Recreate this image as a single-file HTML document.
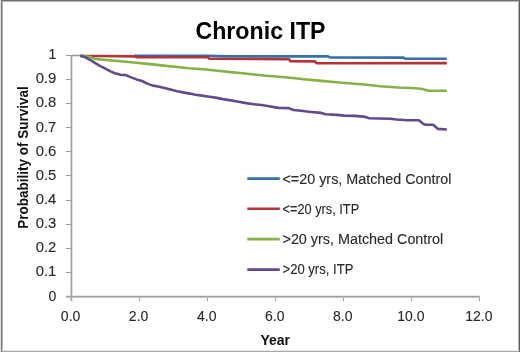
<!DOCTYPE html>
<html><head><meta charset="utf-8"><style>
html,body{margin:0;padding:0;background:#fff;}
body{width:520px;height:352px;overflow:hidden;position:relative;}
svg{position:absolute;left:0;top:0;will-change:transform;}
.t{font-family:"Liberation Sans",sans-serif;font-size:14px;fill:#2a2a2a;stroke:#2a2a2a;stroke-width:0.12px;}
.ax{font-family:"Liberation Sans",sans-serif;font-size:13.5px;font-weight:bold;fill:#111;}
.title{font-family:"Liberation Sans",sans-serif;font-size:24px;font-weight:bold;fill:#000;}
</style></head><body>
<svg width="520" height="352" viewBox="0 0 520 352">
<rect x="0" y="0" width="520" height="352" fill="#fff"/>
<rect x="0" y="350" width="518" height="1" fill="#e8e8e8"/>
<rect x="0" y="351" width="519" height="1" fill="#a8a8a8"/>
<rect x="0" y="1" width="520" height="1" fill="#b5b5b5"/>
<rect x="0" y="0" width="520" height="1" fill="#727272"/>
<rect x="0" y="0" width="1" height="352" fill="#e0e0e0"/>
<rect x="2" y="2" width="1" height="348" fill="#b8b8b8"/>
<rect x="1" y="0" width="1" height="352" fill="#7a7a7a"/>
<rect x="518" y="2" width="1" height="348" fill="#b5b5b5"/>
<rect x="519" y="0" width="1" height="352" fill="#5f5f5f"/>
<rect x="70" y="55" width="1" height="246" fill="#d4d4d4"/>
<rect x="72" y="55" width="1" height="246" fill="#e2e2e2"/>
<rect x="66" y="295" width="414" height="1" fill="#e6e6e6"/>
<rect x="66" y="296" width="414" height="1" fill="#a2a2a2"/>
<rect x="66" y="297" width="414" height="1" fill="#c4c4c4"/>
<rect x="71" y="55" width="1" height="246" fill="#a0a0a0"/>
<line x1="66" y1="272.5" x2="71" y2="272.5" stroke="#9a9a9a" stroke-width="1"/>
<line x1="66" y1="248.5" x2="71" y2="248.5" stroke="#9a9a9a" stroke-width="1"/>
<line x1="66" y1="224.5" x2="71" y2="224.5" stroke="#9a9a9a" stroke-width="1"/>
<line x1="66" y1="200.5" x2="71" y2="200.5" stroke="#9a9a9a" stroke-width="1"/>
<line x1="66" y1="175.5" x2="71" y2="175.5" stroke="#9a9a9a" stroke-width="1"/>
<line x1="66" y1="151.5" x2="71" y2="151.5" stroke="#9a9a9a" stroke-width="1"/>
<line x1="66" y1="127.5" x2="71" y2="127.5" stroke="#9a9a9a" stroke-width="1"/>
<line x1="66" y1="103.5" x2="71" y2="103.5" stroke="#9a9a9a" stroke-width="1"/>
<line x1="66" y1="79.5" x2="71" y2="79.5" stroke="#9a9a9a" stroke-width="1"/>
<line x1="66" y1="55.5" x2="71" y2="55.5" stroke="#9a9a9a" stroke-width="1"/>
<line x1="139.5" y1="298" x2="139.5" y2="301" stroke="#9a9a9a" stroke-width="1"/>
<line x1="207.5" y1="298" x2="207.5" y2="301" stroke="#9a9a9a" stroke-width="1"/>
<line x1="275.5" y1="298" x2="275.5" y2="301" stroke="#9a9a9a" stroke-width="1"/>
<line x1="343.5" y1="298" x2="343.5" y2="301" stroke="#9a9a9a" stroke-width="1"/>
<line x1="411.5" y1="298" x2="411.5" y2="301" stroke="#9a9a9a" stroke-width="1"/>
<line x1="479.5" y1="298" x2="479.5" y2="301" stroke="#9a9a9a" stroke-width="1"/>
<text x="56.3" y="300.5" text-anchor="end" class="t">0</text>
<text x="56.3" y="276.4" text-anchor="end" class="t" textLength="20.6" lengthAdjust="spacingAndGlyphs">0.1</text>
<text x="56.3" y="252.2" text-anchor="end" class="t" textLength="20.6" lengthAdjust="spacingAndGlyphs">0.2</text>
<text x="56.3" y="228.1" text-anchor="end" class="t" textLength="20.6" lengthAdjust="spacingAndGlyphs">0.3</text>
<text x="56.3" y="203.9" text-anchor="end" class="t" textLength="20.6" lengthAdjust="spacingAndGlyphs">0.4</text>
<text x="56.3" y="179.8" text-anchor="end" class="t" textLength="20.6" lengthAdjust="spacingAndGlyphs">0.5</text>
<text x="56.3" y="155.7" text-anchor="end" class="t" textLength="20.6" lengthAdjust="spacingAndGlyphs">0.6</text>
<text x="56.3" y="131.5" text-anchor="end" class="t" textLength="20.6" lengthAdjust="spacingAndGlyphs">0.7</text>
<text x="56.3" y="107.4" text-anchor="end" class="t" textLength="20.6" lengthAdjust="spacingAndGlyphs">0.8</text>
<text x="56.3" y="83.2" text-anchor="end" class="t" textLength="20.6" lengthAdjust="spacingAndGlyphs">0.9</text>
<text x="56.3" y="59.1" text-anchor="end" class="t">1</text>
<text x="70.6" y="321.2" text-anchor="middle" class="t">0.0</text>
<text x="138.6" y="321.2" text-anchor="middle" class="t">2.0</text>
<text x="206.7" y="321.2" text-anchor="middle" class="t">4.0</text>
<text x="274.7" y="321.2" text-anchor="middle" class="t">6.0</text>
<text x="342.7" y="321.2" text-anchor="middle" class="t">8.0</text>
<text x="410.8" y="321.2" text-anchor="middle" class="t">10.0</text>
<text x="478.8" y="321.2" text-anchor="middle" class="t">12.0</text>
<line x1="71.5" y1="55.5" x2="80.5" y2="55.5" stroke="#9a9a9a" stroke-width="1.6"/>
<polyline points="134.0,55.9 208.0,55.9 226.0,56.4 300.0,56.4 328.0,56.3 330.0,57.5 403.5,57.6 405.5,58.8 446.8,58.7" fill="none" stroke="#3470AC" stroke-width="2.6" stroke-linejoin="round"/>
<polyline points="80.0,56.0 100.0,56.0 135.0,56.4 136.5,57.2 208.0,57.3 209.5,58.8 289.0,59.2 290.5,61.3 315.0,61.4 316.5,63.3 446.8,63.1" fill="none" stroke="#B5323A" stroke-width="2.6" stroke-linejoin="round"/>
<polyline points="80.0,55.9 88.0,56.6 95.7,58.9 103.4,59.7 111.0,60.4 115.0,60.7 125.8,61.7 136.6,62.8 147.4,63.9 155.0,64.6 163.6,65.6 177.3,67.0 189.0,68.3 203.0,69.3 218.0,70.8 230.8,72.1 242.5,73.3 259.0,75.0 266.0,75.7 281.9,77.0 290.4,77.7 304.0,79.2 321.3,80.9 336.5,82.2 342.0,82.8 360.7,84.2 369.2,85.0 380.0,86.2 398.0,87.5 412.0,88.0 421.4,88.7 424.0,89.4 428.5,90.8 446.8,90.8" fill="none" stroke="#84B244" stroke-width="2.6" stroke-linejoin="round"/>
<polyline points="80.3,55.6 84.2,56.7 88.0,58.9 91.8,60.8 95.7,63.4 99.5,65.7 103.4,67.7 107.2,69.7 111.0,71.6 114.9,73.2 118.0,74.0 120.4,74.7 125.8,75.1 131.2,77.4 136.6,79.4 142.0,81.0 147.4,83.6 152.8,85.6 156.8,86.3 163.6,87.7 170.5,89.5 177.3,91.3 184.1,92.6 190.0,93.6 194.2,94.5 201.9,95.6 207.7,96.5 215.4,97.6 223.1,99.1 230.8,100.4 238.5,101.8 246.2,103.1 253.8,104.2 261.5,105.0 269.2,106.2 276.9,107.6 279.6,108.0 288.8,108.1 293.5,110.0 301.2,110.7 308.8,111.8 321.2,112.9 325.8,114.2 336.5,114.9 344.2,115.6 355.0,115.9 365.4,116.9 369.2,118.2 378.8,118.5 390.4,118.7 396.2,119.5 407.7,120.2 418.8,120.2 423.5,124.0 425.7,124.8 433.2,124.8 438.0,128.9 446.8,129.5" fill="none" stroke="#624A8C" stroke-width="2.6" stroke-linejoin="round"/>
<line x1="247.3" y1="178.6" x2="279.8" y2="178.6" stroke="#3470AC" stroke-width="2.6"/>
<text x="282.5" y="183.5" class="t" textLength="169" lengthAdjust="spacingAndGlyphs">&lt;=20 yrs, Matched Control</text>
<line x1="247.3" y1="208.8" x2="279.8" y2="208.8" stroke="#B5323A" stroke-width="2.6"/>
<text x="282.5" y="213.5" class="t" textLength="76.7" lengthAdjust="spacingAndGlyphs">&lt;=20 yrs, ITP</text>
<line x1="247.3" y1="239.1" x2="279.8" y2="239.1" stroke="#84B244" stroke-width="2.6"/>
<text x="282.5" y="243.7" class="t" textLength="160.8" lengthAdjust="spacingAndGlyphs">&gt;20 yrs, Matched Control</text>
<line x1="247.3" y1="269.6" x2="279.8" y2="269.6" stroke="#624A8C" stroke-width="2.6"/>
<text x="282.5" y="274.0" class="t" textLength="70.9" lengthAdjust="spacingAndGlyphs">&gt;20 yrs, ITP</text>
<text x="260.5" y="39" text-anchor="middle" class="title" textLength="130.1" lengthAdjust="spacingAndGlyphs">Chronic ITP</text>
<text x="275.2" y="344.7" text-anchor="middle" class="ax" style="font-size:14px">Year</text>
<text transform="translate(28.2,157.5) rotate(-90)" x="0" y="0" text-anchor="middle" class="ax" style="font-size:15px" textLength="142.5" lengthAdjust="spacingAndGlyphs">Probability of Survival</text>
</svg>
</body></html>
